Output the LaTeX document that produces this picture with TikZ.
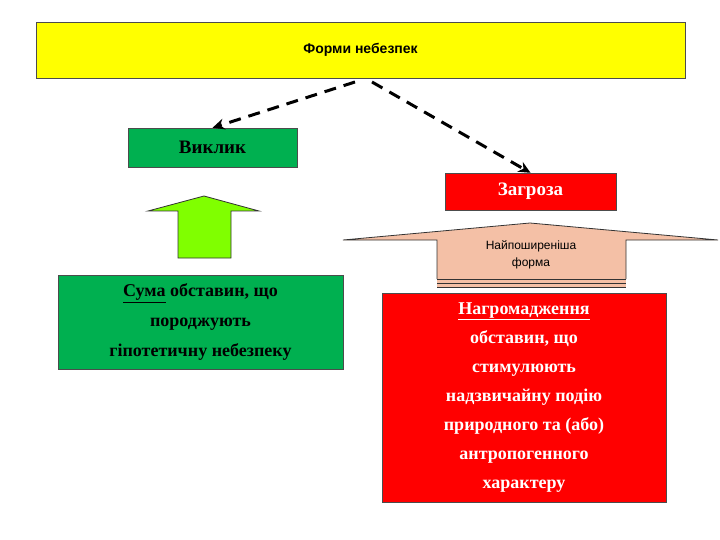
\documentclass[tikz,border=0pt]{standalone}
\usepackage{fontspec}
\setmainfont{Liberation Serif}
\newfontfamily\arial{Liberation Sans}
\usetikzlibrary{arrows.meta}
\definecolor{yel}{RGB}{255,255,0}
\definecolor{grn}{RGB}{0,176,80}
\definecolor{lgrn}{RGB}{128,255,0}
\definecolor{peach}{RGB}{244,192,166}
\tikzset{box/.style={draw=black!70,inner sep=0pt,align=center},
 dasharrow/.style={line width=3pt,dash pattern=on 12pt off 8pt,-{Stealth[length=12pt,width=11pt]}},
 shp/.style={draw=black!80,line width=0.8pt}}
\begin{document}
\begin{tikzpicture}[x=1pt,y=-1pt]
\useasboundingbox (0,0) rectangle (720,540);
\node[box,fill=yel,minimum width=649pt,minimum height=56pt,font=\arial\bfseries\fontsize{14}{16}\selectfont] (top) at (360.5,50) {Форми небезпек};
\node[box,fill=grn,minimum width=169pt,minimum height=39pt,font=\bfseries\fontsize{19}{22}\selectfont] (vyk) at (212.5,147.5) {Виклик};
\node[box,fill=red,text=white,minimum width=171pt,minimum height=37pt,font=\bfseries\fontsize{19}{22}\selectfont] (zag) at (530.5,191.5) {Загроза};
\coordinate (s1) at (355,82);
\coordinate (s2) at (372,82);
\draw[dasharrow] (s1) -- (vyk.north);
\draw[dasharrow] (s2) -- (zag.north);
\draw[shp,fill=lgrn] (178,258) -- (178,211) -- (148,211) -- (204,196) -- (259,211) -- (231,211) -- (231,258) -- cycle;
\draw[shp,fill=peach] (437,279) -- (437,240) -- (343,240) -- (530,223) -- (718,240) -- (626,240) -- (626,279);
\fill[peach] (437,279) rectangle (626,287);
\draw[black!80] (437,279) -- (626,279) (437,283) -- (626,283) (437,287) -- (626,287);
\node[font=\arial\fontsize{12}{17}\selectfont,align=center] (naj) at (531,255) {Найпоширеніша\\форма};
\node[box,fill=grn,minimum width=285pt,minimum height=94pt,font=\bfseries\fontsize{18}{30}\selectfont] (suma) at (200.5,322) {\underline{Сума} обставин, що\\породжують\\гіпотетичну небезпеку};
\node[box,fill=red,text=white,minimum width=284pt,minimum height=209pt,font=\bfseries\fontsize{18}{29}\selectfont] (nag) at (524,397.5) {\underline{Нагромадження}\\обставин, що\\стимулюють\\надзвичайну подію\\природного та (або)\\антропогенного\\характеру};
\end{tikzpicture}
\end{document}
